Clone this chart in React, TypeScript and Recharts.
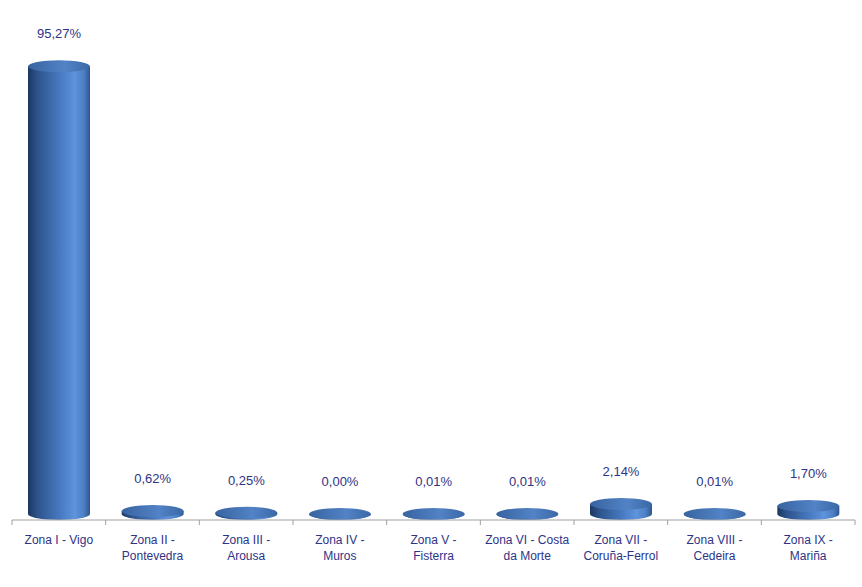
import { BarChart, Bar, XAxis, YAxis, LabelList } from 'recharts';

const categories = [
  'Zona I - Vigo',
  'Zona II -\nPontevedra',
  'Zona III -\nArousa',
  'Zona IV -\nMuros',
  'Zona V -\nFisterra',
  'Zona VI - Costa\nda Morte',
  'Zona VII -\nCoruña-Ferrol',
  'Zona VIII -\nCedeira',
  'Zona IX -\nMariña',
];
const shares = [95.27, 0.62, 0.25, 0.0, 0.01, 0.01, 2.14, 0.01, 1.7];

const data = categories.map((name, i) => ({ name, share: shares[i] }));

const W = 862;
const H = 587;
const M = { top: 50, right: 7, bottom: 17, left: 12 };
const BAND = (W - M.left - M.right) / categories.length;
const AXIS_Y = H - M.bottom - 50;
const TEXT = '#2e3386';
const FONT = '"Liberation Sans", Arial, sans-serif';

const Cylinder = (props: any) => {
  const { x, y, width, height } = props;
  const rx = width / 2;
  const ry = 6;
  const top = y - ry;
  const bottom = y + height - ry;
  return (
    <g>
      <path
        d={`M${x},${top} L${x},${bottom} A${rx},${ry} 0 0 0 ${x + width},${bottom} L${x + width},${top} Z`}
        fill="url(#cylBody)"
      />
      <ellipse cx={x + rx} cy={top} rx={rx} ry={ry} fill="url(#cylTop)" />
    </g>
  );
};

const CategoryTick = (props: any) => {
  const { x, payload, index } = props;
  const lines = String(payload.value).split('\n');
  const left = x - BAND / 2;
  return (
    <g>
      <line x1={left} y1={AXIS_Y} x2={left} y2={AXIS_Y + 5} stroke="#a0a0a0" />
      {index === categories.length - 1 && (
        <line x1={left + BAND} y1={AXIS_Y} x2={left + BAND} y2={AXIS_Y + 5} stroke="#a0a0a0" />
      )}
      <text x={x} y={AXIS_Y + 24} textAnchor="middle" fill={TEXT} fontSize={12} fontFamily={FONT}>
        {lines.map((l, i) => (
          <tspan key={i} x={x} dy={i === 0 ? 0 : 16}>
            {l}
          </tspan>
        ))}
      </text>
    </g>
  );
};

const ValueLabel = (props: any) => {
  const { x, y, width, value } = props;
  return (
    <text
      x={x + width / 2}
      y={y - 34}
      textAnchor="middle"
      fill={TEXT}
      fontSize={13}
      fontFamily={FONT}
    >
      {Number(value).toFixed(2).replace('.', ',') + '%'}
    </text>
  );
};

export default function App() {
  return (
    <div style={{ position: 'absolute', left: 0, top: 0, width: W, height: H, background: '#fff' }}>
      <BarChart width={W} height={H} data={data} margin={M}>
        <defs>
          <linearGradient id="cylBody" x1="0" y1="0" x2="1" y2="0">
            <stop offset="0%" stopColor="#1c3760" />
            <stop offset="15%" stopColor="#2d538b" />
            <stop offset="55%" stopColor="#4a7dc5" />
            <stop offset="75%" stopColor="#5e94dc" />
            <stop offset="90%" stopColor="#4d7fc3" />
            <stop offset="100%" stopColor="#2e568f" />
          </linearGradient>
          <linearGradient id="cylTop" x1="0" y1="0" x2="1" y2="0">
            <stop offset="0%" stopColor="#3863a0" />
            <stop offset="60%" stopColor="#5283c6" />
            <stop offset="100%" stopColor="#3b68a6" />
          </linearGradient>
        </defs>
        <XAxis
          dataKey="name"
          height={50}
          interval={0}
          tickLine={false}
          tickSize={0}
          tickMargin={0}
          axisLine={{ stroke: '#a0a0a0' }}
          tick={<CategoryTick />}
        />
        <YAxis hide domain={[0, 100]} />
        <Bar dataKey="share" barSize={62} shape={<Cylinder />} minPointSize={0} isAnimationActive={false}>
          <LabelList dataKey="share" content={<ValueLabel />} />
        </Bar>
      </BarChart>
    </div>
  );
}
